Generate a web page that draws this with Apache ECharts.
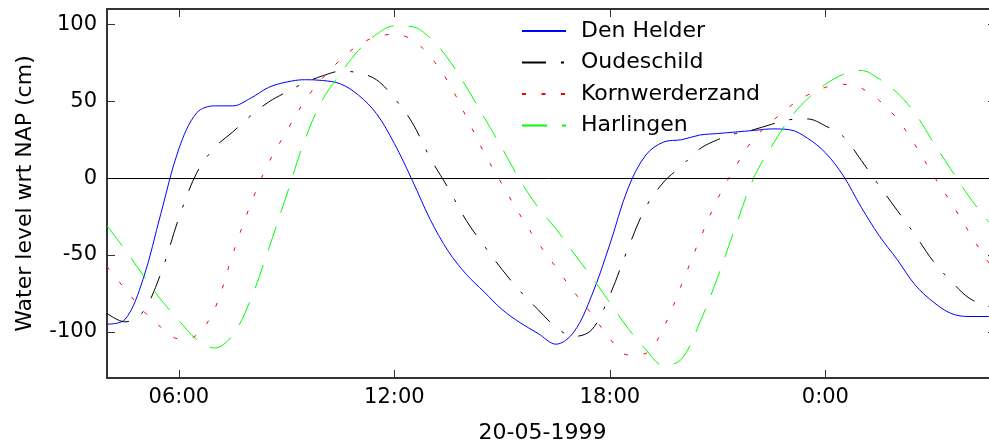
<!DOCTYPE html>
<html>
<head>
<meta charset="utf-8">
<title>Water level wrt NAP</title>
<script src="https://cdn.jsdelivr.net/npm/echarts@6/dist/echarts.min.js"></script>
<style>
  html, body { margin: 0; padding: 0; background: #fff; }
  #chart { width: 989px; height: 442px; }
</style>
</head>
<body>
<div id="chart"></div>
<script>
// hours since 00:00 on 20-05-1999 (values > 24 are the next day)
var hours = [4, 4.5, 5, 5.5, 6, 6.5, 7, 7.5, 8, 8.5, 9, 9.5, 10, 10.5, 11, 11.5,
    12, 12.5, 13, 13.5, 14, 14.5, 15, 15.5, 16, 16.5, 17, 17.5, 18, 18.5, 19, 19.5,
    20, 20.5, 21, 21.5, 22, 22.5, 23, 23.5, 24, 24.5, 25, 25.5, 26, 26.5, 27, 27.5,
    28, 28.5, 28.75];

// water level (cm)
var denHelder = [-95, -92, -66, -23, 19, 42.5, 47, 47, 52, 59, 62.5, 64, 63.5, 61.3, 54, 42,
    22.5, -1.5, -27, -47.5, -62.5, -74, -85.5, -94, -101, -108, -100, -76, -43, -7, 15, 23.5,
    25, 28, 29, 30, 31, 32, 31.5, 26, 16.5, 1.5, -19, -37.5, -53, -69.5, -80.5, -88,
    -90, -90, -90];
var oudeschild = [-88, -93.5, -87, -62, -26, 3.5, 20, 30, 40.5, 49.5, 56, 62, 66.5, 69.5, 68.5, 64,
    52, 36, 13, -6.5, -27.5, -44, -59.5, -73.5, -85.5, -97, -103, -98.5, -76, -46, -19, -2.5,
    8, 19, 25, 29, 31.5, 35, 38, 38.5, 34, 27, 11.5, -5, -21, -37, -54, -67,
    -78, -83, -85];
var kornwerderzand = [-57.5, -72, -86, -97, -104.5, -102, -85, -49.5, -17, 10, 30.5, 50, 65, 77, 86.5, 92,
    93.5, 90, 79, 62.5, 40, 16.5, -4, -24, -42, -58, -74, -88.5, -104.5, -115, -114, -97,
    -69, -40, -13.5, 7.5, 25.5, 36.5, 46.5, 54, 59, 61, 58.5, 50.5, 38.5, 21.5, 2, -16,
    -35, -53.5, -60];
var harlingen = [-31, -46.5, -63, -79, -92.5, -105, -110.5, -102, -79, -46, -11, 24.5, 51, 68, 83, 93.5,
    99, 98.5, 91, 77.5, 59.5, 39.5, 19.5, -1.5, -19, -33, -49, -64.5, -81, -97.5, -111.5, -122,
    -117.5, -94, -64.5, -31.5, 0, 20.5, 38.5, 51.5, 61, 67.5, 70, 64.5, 55.5, 42, 23.5, 5.5,
    -12, -27, -33];

var yTicks = [-100, -50, 0, 50, 100];
var xTicks = [6, 12, 18, 24];
var xTickLabels = ['06:00', '12:00', '18:00', '0:00'];

var font = 'DejaVu Sans';

function pairs(vals) {
    var out = [];
    for (var i = 0; i < hours.length; i++) {
        out.push([hours[i], vals[i]]);
    }
    return out;
}

function line(name, vals, color, dash) {
    return {
        name: name,
        type: 'line',
        data: pairs(vals),
        showSymbol: false,
        symbol: 'none',
        smooth: 0.35,
        lineStyle: { color: color, width: 1, type: dash },
        itemStyle: { color: color }
    };
}

var frameLine = { show: true, onZero: false, lineStyle: { color: '#333', width: 2 } };
var tickStyle = { color: '#333', width: 1 };

function ticksAt(vals) {
    return { show: true, inside: true, length: 8, lineStyle: tickStyle, customValues: vals };
}

var series = [
    line('Den Helder', denHelder, '#0000ff', 'solid'),
    line('Oudeschild', oudeschild, '#000000', [24, 15, 3, 15]),
    line('Kornwerderzand', kornwerderzand, '#ff0000', [4, 15.5]),
    line('Harlingen', harlingen, '#00ff00', [25, 15])
];
// zero line
series[0].markLine = {
    silent: true,
    symbol: 'none',
    label: { show: false },
    lineStyle: { color: '#000', width: 1, type: 'solid' },
    data: [{ yAxis: 0 }]
};

var option = {
    animation: false,
    backgroundColor: '#fff',
    textStyle: { fontFamily: font },
    grid: { left: 107, top: 9, width: 889, height: 369, containLabel: false, outerBoundsMode: 'none' },
    legend: {
        orient: 'vertical',
        left: 521,
        top: 20,
        padding: 0,
        itemWidth: 44,
        itemHeight: 14,
        itemGap: 9.5,
        itemStyle: { opacity: 0 },
        textStyle: { fontFamily: font, fontSize: 22, color: '#000', padding: [0, 0, 0, 10] },
        data: ['Den Helder', 'Oudeschild', 'Kornwerderzand', 'Harlingen']
    },
    xAxis: [{
        type: 'value',
        min: 4,
        max: 28.75,
        name: '20-05-1999',
        nameLocation: 'middle',
        nameGap: 44,
        nameTextStyle: { fontFamily: font, fontSize: 22, color: '#000', padding: [0, 18, 0, 0] },
        axisLine: frameLine,
        axisTick: ticksAt(xTicks),
        axisLabel: {
            customValues: xTicks,
            margin: 9,
            fontFamily: font,
            fontSize: 21,
            color: '#000',
            formatter: function (v) { return xTickLabels[xTicks.indexOf(v)]; }
        },
        splitLine: { show: false }
    }, {
        type: 'value',
        position: 'top',
        min: 4,
        max: 28.75,
        axisLine: frameLine,
        axisTick: ticksAt(xTicks),
        axisLabel: { show: false },
        splitLine: { show: false }
    }],
    yAxis: [{
        type: 'value',
        min: -130,
        max: 110,
        name: 'Water level wrt NAP (cm)',
        nameLocation: 'middle',
        nameGap: 71,
        nameTextStyle: { fontFamily: font, fontSize: 22, color: '#000' },
        axisLine: frameLine,
        axisTick: ticksAt(yTicks),
        axisLabel: { customValues: yTicks, margin: 10, fontFamily: font, fontSize: 21, color: '#000' },
        splitLine: { show: false }
    }, {
        type: 'value',
        position: 'right',
        min: -130,
        max: 110,
        axisLine: frameLine,
        axisTick: ticksAt(yTicks),
        axisLabel: { show: false },
        splitLine: { show: false }
    }],
    series: series
};

var chart = echarts.init(document.getElementById('chart'), null, { renderer: 'canvas' });
chart.setOption(option);
</script>
</body>
</html>
